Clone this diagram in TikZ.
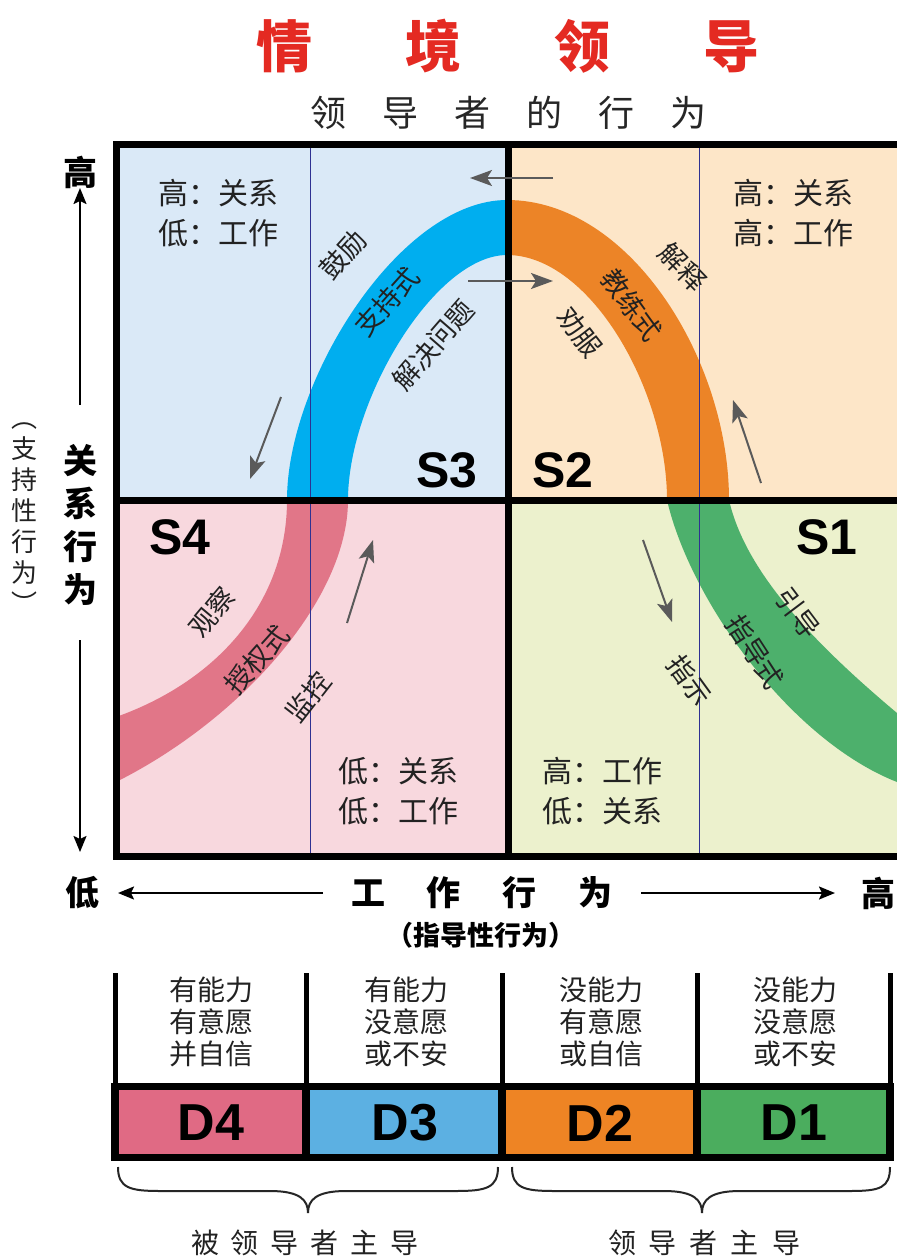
\documentclass[tikz,border=0pt]{standalone}
\usepackage{fontspec}
\setmainfont{Liberation Sans}
\newfontfamily\cjk{Noto Sans CJK SC}
\usetikzlibrary{arrows.meta}
\definecolor{qblue}{HTML}{DAE9F7}
\definecolor{qpeach}{HTML}{FDE6C8}
\definecolor{qpink}{HTML}{F8D8DE}
\definecolor{qgreen}{HTML}{ECF1CD}
\definecolor{bblue}{HTML}{00AEEF}
\definecolor{borange}{HTML}{EC8427}
\definecolor{bpink}{HTML}{E17688}
\definecolor{bgreen}{HTML}{4DB06C}
\definecolor{dpink}{HTML}{E06A84}
\definecolor{dblue}{HTML}{5CB0E2}
\definecolor{dorange}{HTML}{EE8424}
\definecolor{dgreen}{HTML}{4BAD5E}
\definecolor{titlered}{HTML}{E42A22}
\definecolor{navy}{HTML}{2E3192}
\definecolor{arrgray}{HTML}{5A5A5A}
\definecolor{txt}{HTML}{222222}
\begin{document}
\begin{tikzpicture}[x=1pt,y=-1pt,
  lbl/.style={font=\cjk\fontsize{27}{27}\selectfont, inner sep=0pt, text=txt},
  corner/.style={font=\cjk\fontsize{30}{40}\selectfont, inner sep=0pt, text=txt, align=left, anchor=west},
  slab/.style={font=\bfseries\fontsize{50}{50}\selectfont, inner sep=0pt},
  dlab/.style={font=\bfseries\fontsize{52}{52}\selectfont, inner sep=0pt},
  flow/.style={draw=arrgray, line width=2pt, -{Stealth[length=22pt,width=16pt,inset=5pt]}},
  axisarrow/.style={draw=black, line width=2pt, -{Stealth[length=16pt,width=13pt,inset=3pt]}},
  axlab/.style={font=\cjk\bfseries\fontsize{34}{34}\selectfont, inner sep=0pt},
  tabtxt/.style={font=\cjk\fontsize{28}{32}\selectfont, inner sep=0pt, text=txt, align=center},
  brace/.style={draw=black!85, line width=2pt}]
\useasboundingbox (0,0) rectangle (897,1259);
\fill[white] (0,0) rectangle (897,1259);

% title
\node[font=\cjk\bfseries\fontsize{56}{56}\selectfont, text=titlered, inner sep=0pt] (title) at (508,46)
  {情\hspace{93pt}境\hspace{93pt}领\hspace{93pt}导};
\node[font=\cjk\fontsize{36}{36}\selectfont, text=black!85, inner sep=0pt] (subtitle) at (508,113)
  {领\hspace{36pt}导\hspace{36pt}者\hspace{36pt}的\hspace{36pt}行\hspace{36pt}为};

% quadrants
\fill[qblue] (116,144) rectangle (508,500);
\fill[qpeach] (508,144) rectangle (910,500);
\fill[qpink] (116,500) rectangle (508,856);
\fill[qgreen] (508,500) rectangle (910,856);

% bands
\fill[bblue] (287,500) .. controls (287,380) and (400,200) .. (507,200) -- (507,255)
  .. controls (435,255) and (348,400) .. (348,500) -- cycle;
\fill[bpink] (287,500) .. controls (287,600) and (220,680) .. (116,717) -- (116,782)
  .. controls (240,720) and (348,600) .. (348,500) -- cycle;
\fill[borange] (507,200) .. controls (630,200) and (729,360) .. (729,500) -- (667,500)
  .. controls (667,390) and (590,255) .. (507,255) -- cycle;
\fill[bgreen] (729,500) .. controls (745,570) and (810,640) .. (897,713) -- (910,717) -- (910,786) -- (897,782)
  .. controls (790,740) and (690,600) .. (667,500) -- cycle;

% thin lines
\draw[navy, line width=1pt] (310,144) -- (310,856);
\draw[navy, line width=1pt] (699,144) -- (699,856);

% borders
\draw[line width=7pt] (116,144) rectangle (912,856);
\draw[line width=7pt] (508,144) -- (508,856);
\draw[line width=7pt] (116,500) -- (912,500);

% corner labels
\node[corner] (tl) at (158,213) {高：关系\\低：工作};
\node[corner] (tr) at (733,213) {高：关系\\高：工作};
\node[corner] (bl) at (338,791) {低：关系\\低：工作};
\node[corner] (br) at (542,791) {高：工作\\低：关系};

% S labels
\node[slab] (s3) at (447,470) {S3};
\node[slab] (s2) at (563,470) {S2};
\node[slab] (s4) at (180,537) {S4};
\node[slab] (s1) at (827,537) {S1};

% band labels
\node[lbl, rotate=48] (l1) at (343,255) {鼓励};
\node[lbl, rotate=48] (l2) at (387,302) {支持式};
\node[lbl, rotate=49] (l3) at (433,345) {解决问题};
\node[lbl, rotate=-46] (l4) at (683,267) {解释};
\node[lbl, rotate=-54] (l5) at (632,305) {教练式};
\node[lbl, rotate=-52] (l6) at (580,332) {劝服};
\node[lbl, rotate=50] (l7) at (212,612) {观察};
\node[lbl, rotate=48] (l8) at (257,660) {授权式};
\node[lbl, rotate=52] (l9) at (308,697) {监控};
\node[lbl, rotate=-53] (l10) at (798,613) {引导};
\node[lbl, rotate=-57] (l11) at (755,652) {指导式};
\node[lbl, rotate=-54] (l12) at (690,680) {指示};

% flow arrows
\coordinate (a1s) at (553,178); \coordinate (a1e) at (470,178);
\coordinate (a2s) at (468,281); \coordinate (a2e) at (553,281);
\coordinate (a3s) at (281,397); \coordinate (a3e) at (250,479);
\coordinate (a4s) at (347,623); \coordinate (a4e) at (373,540);
\coordinate (a5s) at (761,483); \coordinate (a5e) at (733,400);
\coordinate (a6s) at (643,540); \coordinate (a6e) at (672,622);
\draw[flow] (a1s) -- (a1e);
\draw[flow] (a2s) -- (a2e);
\draw[flow] (a3s) -- (a3e);
\draw[flow] (a4s) -- (a4e);
\draw[flow] (a5s) -- (a5e);
\draw[flow] (a6s) -- (a6e);

% left axis
\node[axlab] (vhigh) at (80,172) {高};
\node[axlab, align=center, font=\cjk\bfseries\fontsize{34}{43}\selectfont] (vlab) at (80,525) {关\\系\\行\\为};
\node[font=\cjk\fontsize{26}{31}\selectfont, inner sep=0pt, align=center, text=txt] (vsub) at (25,518)
  {︵\\支\\持\\性\\行\\为\\︶};
\coordinate (vu1) at (80,405); \coordinate (vu2) at (80,188);
\coordinate (vd1) at (80,640); \coordinate (vd2) at (80,852);
\draw[axisarrow] (vu1) -- (vu2);
\draw[axisarrow] (vd1) -- (vd2);

% bottom axis
\node[axlab] (hlow) at (82,893) {低};
\node[axlab] (hhigh) at (878,893) {高};
\node[axlab] (hlab) at (482,893) {工\hspace{42pt}作\hspace{42pt}行\hspace{42pt}为};
\node[font=\cjk\bfseries\fontsize{27}{27}\selectfont, inner sep=0pt] (hsub) at (481,935) {（指导性行为）};
\coordinate (hl1) at (323,893); \coordinate (hl2) at (118,893);
\coordinate (hr1) at (641,893); \coordinate (hr2) at (835,893);
\draw[axisarrow] (hl1) -- (hl2);
\draw[axisarrow] (hr1) -- (hr2);

% table
\node[tabtxt] (t4) at (211,1022) {有能力\\有意愿\\并自信};
\node[tabtxt] (t3) at (406,1022) {有能力\\没意愿\\或不安};
\node[tabtxt] (t2) at (601,1022) {没能力\\有意愿\\或自信};
\node[tabtxt] (t1) at (795,1022) {没能力\\没意愿\\或不安};
\fill[dpink] (115,1086) rectangle (306,1157);
\fill[dblue] (306,1086) rectangle (502,1157);
\fill[dorange] (502,1086) rectangle (697,1157);
\fill[dgreen] (697,1086) rectangle (890,1157);
\foreach \x in {115,306,502,697,890} {
  \draw[line width=5pt] (\x,973) -- (\x,1086);
  \draw[line width=8pt] (\x,1086) -- (\x,1157);
}
\draw[line width=7pt] (111,1086) -- (894,1086);
\draw[line width=7pt] (111,1157) -- (894,1157);
\node[dlab] (d4) at (211,1123) {D4};
\node[dlab] (d3) at (405,1123) {D3};
\node[dlab] (d2) at (600,1123) {D2};
\node[dlab] (d1) at (794,1123) {D1};

% braces
\draw[brace] (118,1167) .. controls (118,1188) and (130,1191) .. (160,1191) -- (270,1191)
  .. controls (300,1191) and (308,1200) .. (308,1213) .. controls (308,1200) and (316,1191) .. (346,1191)
  -- (456,1191) .. controls (486,1191) and (498,1188) .. (498,1167);
\draw[brace] (512,1167) .. controls (512,1188) and (524,1191) .. (554,1191) -- (664,1191)
  .. controls (694,1191) and (702,1200) .. (702,1213) .. controls (702,1200) and (710,1191) .. (740,1191)
  -- (850,1191) .. controls (880,1191) and (890,1188) .. (890,1167);
\node[font=\cjk\fontsize{28}{28}\selectfont, inner sep=0pt, text=txt] (g1) at (305,1243)
  {被\hspace{12pt}领\hspace{12pt}导\hspace{12pt}者\hspace{12pt}主\hspace{12pt}导};
\node[font=\cjk\fontsize{28}{28}\selectfont, inner sep=0pt, text=txt] (g2) at (704,1243)
  {领\hspace{13pt}导\hspace{13pt}者\hspace{13pt}主\hspace{13pt}导};
\end{tikzpicture}
\end{document}
